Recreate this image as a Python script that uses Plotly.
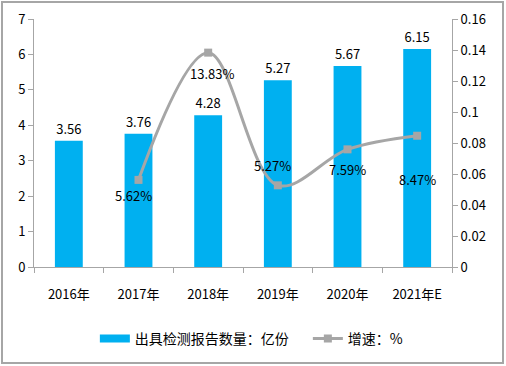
import plotly.graph_objects as go

categories = ["2016年", "2017年", "2018年", "2019年", "2020年", "2021年E"]
report_counts = [3.56, 3.76, 4.28, 5.27, 5.67, 6.15]
growth_cats = ["2017年", "2018年", "2019年", "2020年", "2021年E"]
growth_rates = [0.0562, 0.1383, 0.0527, 0.0759, 0.0847]
growth_labels = ["5.62%", "13.83%", "5.27%", "7.59%", "8.47%"]
left_ticks = [0, 1, 2, 3, 4, 5, 6, 7]
right_ticks = [0, 0.02, 0.04, 0.06, 0.08, 0.1, 0.12, 0.14, 0.16]
right_tick_labels = ["0", "0.02", "0.04", "0.06", "0.08", "0.1", "0.12", "0.14", "0.16"]

# label offsets (pixels) for growth-rate labels, as placed in the original
label_yshift = [-16, -21, 20, -20, -44]
label_xshift = [-5, 4, -5, 0, 0]

font_family = "Noto Sans CJK SC, DejaVu Sans, sans-serif"
axis_gray = "#A6A6A6"
bar_blue = "#00B0F0"
line_gray = "#A6A6A6"

L, R, T, B = 34, 452, 19, 267
W, H = 506, 366
pw, ph = R - L, B - T

fig = go.Figure()
fig.add_trace(go.Bar(
    x=categories, y=report_counts, name="出具检测报告数量：亿份",
    marker=dict(color=bar_blue, line=dict(width=0)),
    width=0.4, showlegend=False,
    text=[f"{v:.2f}" for v in report_counts], textposition="outside",
    textfont=dict(size=13, color="#000000"), cliponaxis=False,
))
# legend entry for the bars (wide flat rectangle swatch)
fig.add_trace(go.Scatter(
    x=[None], y=[None], name="出具检测报告数量：亿份\u2003", mode="lines",
    line=dict(color=bar_blue, width=8), showlegend=True,
))
fig.add_trace(go.Scatter(
    x=growth_cats, y=growth_rates, name="增速：%", yaxis="y2",
    mode="lines+markers",
    line=dict(color=line_gray, width=3, shape="spline"),
    marker=dict(symbol="square", size=8, color=line_gray),
    cliponaxis=False,
))

annotations = []
for c, v, t, dy, dx in zip(growth_cats, growth_rates, growth_labels, label_yshift, label_xshift):
    annotations.append(dict(x=c, y=v, xref="x", yref="y2", text=t, showarrow=False,
                            yshift=dy, xshift=dx,
                            font=dict(size=13, color="#000000", family=font_family)))

fig.update_layout(
    width=W, height=H,
    margin=dict(l=L, r=W - R, t=T, b=H - B, autoexpand=False),
    paper_bgcolor="white", plot_bgcolor="white",
    font=dict(family=font_family, size=13, color="#000000"),
    showlegend=True,
    legend=dict(orientation="h", x=0.52, xanchor="center",
                y=(B - 339) / ph, yanchor="middle",
                font=dict(size=14), itemwidth=30, tracegroupgap=0),
    annotations=annotations,
    xaxis=dict(type="category", categoryorder="array", categoryarray=categories,
               showline=True, linecolor=axis_gray, linewidth=1, automargin=False,
               ticks="outside", tickson="boundaries", ticklen=5, tickcolor=axis_gray,
               showgrid=False, tickfont=dict(size=13), ticklabelstandoff=15),
    yaxis=dict(range=[0, 7], tickvals=left_ticks, showline=True, linecolor=axis_gray,
               ticks="outside", ticklen=5, tickcolor=axis_gray, showgrid=False,
               zeroline=False, tickfont=dict(size=13), automargin=False),
    yaxis2=dict(range=[0, 0.16], tickvals=right_ticks, ticktext=right_tick_labels,
                overlaying="y", side="right", showline=True, linecolor=axis_gray,
                ticks="outside", ticklen=5, tickcolor=axis_gray, showgrid=False,
                zeroline=False, tickfont=dict(size=13), automargin=False),
    shapes=[dict(type="rect", xref="paper", yref="paper",
                 x0=(2 - L) / pw, x1=(503 - L) / pw,
                 y0=(B - 363) / ph, y1=(B - 2) / ph,
                 line=dict(color="#A6A6A6", width=2), fillcolor="rgba(0,0,0,0)")],
)

fig.write_html("out.html", config={"displayModeBar": False},
               post_script="document.body.style.margin='0';document.body.style.overflow='hidden';")
